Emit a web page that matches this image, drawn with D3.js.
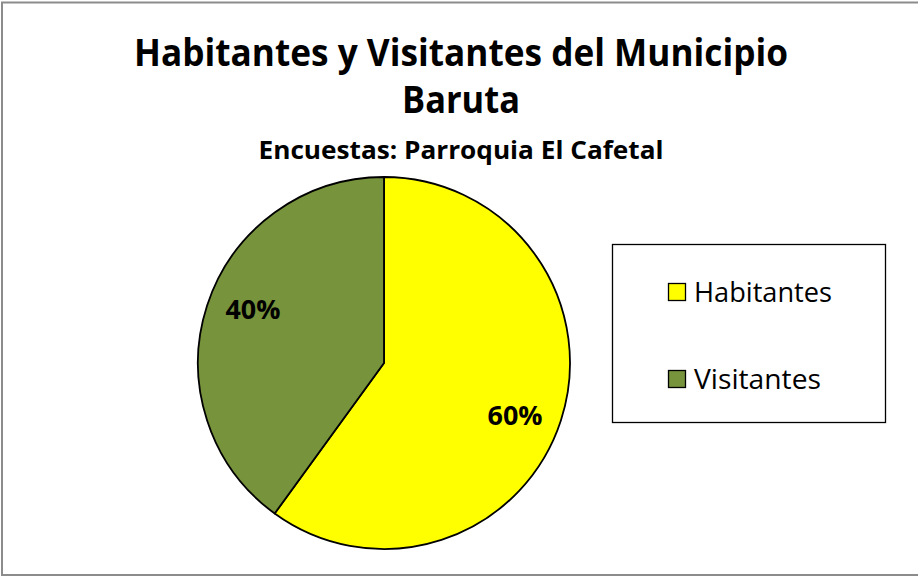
<!DOCTYPE html>
<html>
<head>
<meta charset="utf-8">
<script src="https://d3js.org/d3.v7.min.js"></script>
<style>
  body { margin: 0; background: #fff; }
  text { font-family: "Open Sans", "Noto Sans", sans-serif; }
</style>
</head>
<body>
<svg id="chart" width="918" height="578"></svg>
<script>
// Chart data
const categories = ["Habitantes", "Visitantes"];
const shares = [60, 40];
const colors = ["#FFFF00", "#77933C"];
const titleLines = ["Habitantes y Visitantes del Municipio", "Baruta"];
const subtitle = "Encuestas: Parroquia El Cafetal";

const svg = d3.select("#chart");

// Outer chart border
svg.append("rect")
    .attr("x", 2).attr("y", 2.5)
    .attr("width", 918).attr("height", 572.5)
    .attr("fill", "none")
    .attr("stroke", "#8c8c8c")
    .attr("stroke-width", 2);

// Titles
svg.append("text")
    .attr("x", 461).attr("y", 66)
    .attr("text-anchor", "middle")
    .attr("font-size", 37).attr("font-weight", "bold")
    .attr("textLength", 654).attr("lengthAdjust", "spacingAndGlyphs")
    .text(titleLines[0]);

svg.append("text")
    .attr("x", 461).attr("y", 113)
    .attr("text-anchor", "middle")
    .attr("font-size", 37).attr("font-weight", "bold")
    .attr("textLength", 118).attr("lengthAdjust", "spacingAndGlyphs")
    .text(titleLines[1]);

svg.append("text")
    .attr("x", 461).attr("y", 159)
    .attr("text-anchor", "middle")
    .attr("font-size", 25).attr("font-weight", "bold")
    .attr("textLength", 405).attr("lengthAdjust", "spacingAndGlyphs")
    .text(subtitle);

// Pie
const cx = 384, cy = 363, r = 186;
const data = categories.map((c, i) => ({ name: c, value: shares[i], color: colors[i] }));

const pie = d3.pie().sort(null).value(d => d.value);
const arc = d3.arc().innerRadius(0).outerRadius(r);
const labelR = r * 0.76;

const g = svg.append("g").attr("transform", `translate(${cx},${cy})`);

const slices = pie(data);

g.selectAll("path")
  .data(slices)
  .join("path")
    .attr("d", arc)
    .attr("fill", d => d.data.color)
    .attr("stroke", "#000")
    .attr("stroke-width", 1.8)
    .attr("stroke-linejoin", "round");

// label position: slightly past the slice's mid angle, like the original
function labelPos(d) {
  const a = (d.startAngle + d.endAngle) / 2 + 0.07;
  return [labelR * Math.sin(a), -labelR * Math.cos(a)];
}

g.selectAll("text.lbl")
  .data(slices)
  .join("text")
    .attr("class", "lbl")
    .attr("transform", d => `translate(${labelPos(d)})`)
    .attr("text-anchor", "middle")
    .attr("dy", "0.35em")
    .attr("font-size", 27).attr("font-weight", "bold")
    .attr("textLength", 55).attr("lengthAdjust", "spacingAndGlyphs")
    .text(d => d.data.value + "%");

// Legend
const legend = svg.append("g");
legend.append("rect")
    .attr("x", 612.5).attr("y", 244.5)
    .attr("width", 273).attr("height", 178)
    .attr("fill", "#fff")
    .attr("stroke", "#000")
    .attr("stroke-width", 1.3);

const legendY = d3.scalePoint().domain(categories).range([292, 379]);
const legendLen = [138, 127];

const item = legend.selectAll("g.item")
  .data(data)
  .join("g")
    .attr("class", "item")
    .attr("transform", d => `translate(668,${legendY(d.name)})`);

item.append("rect")
    .attr("x", 0.5).attr("y", -8.5)
    .attr("width", 17).attr("height", 17)
    .attr("fill", d => d.color)
    .attr("stroke", "#000")
    .attr("stroke-width", 1.3);

item.append("text")
    .attr("x", 26).attr("y", 10)
    .attr("font-size", 27)
    .attr("textLength", (d, i) => legendLen[i]).attr("lengthAdjust", "spacingAndGlyphs")
    .text(d => d.name);
</script>
</body>
</html>
